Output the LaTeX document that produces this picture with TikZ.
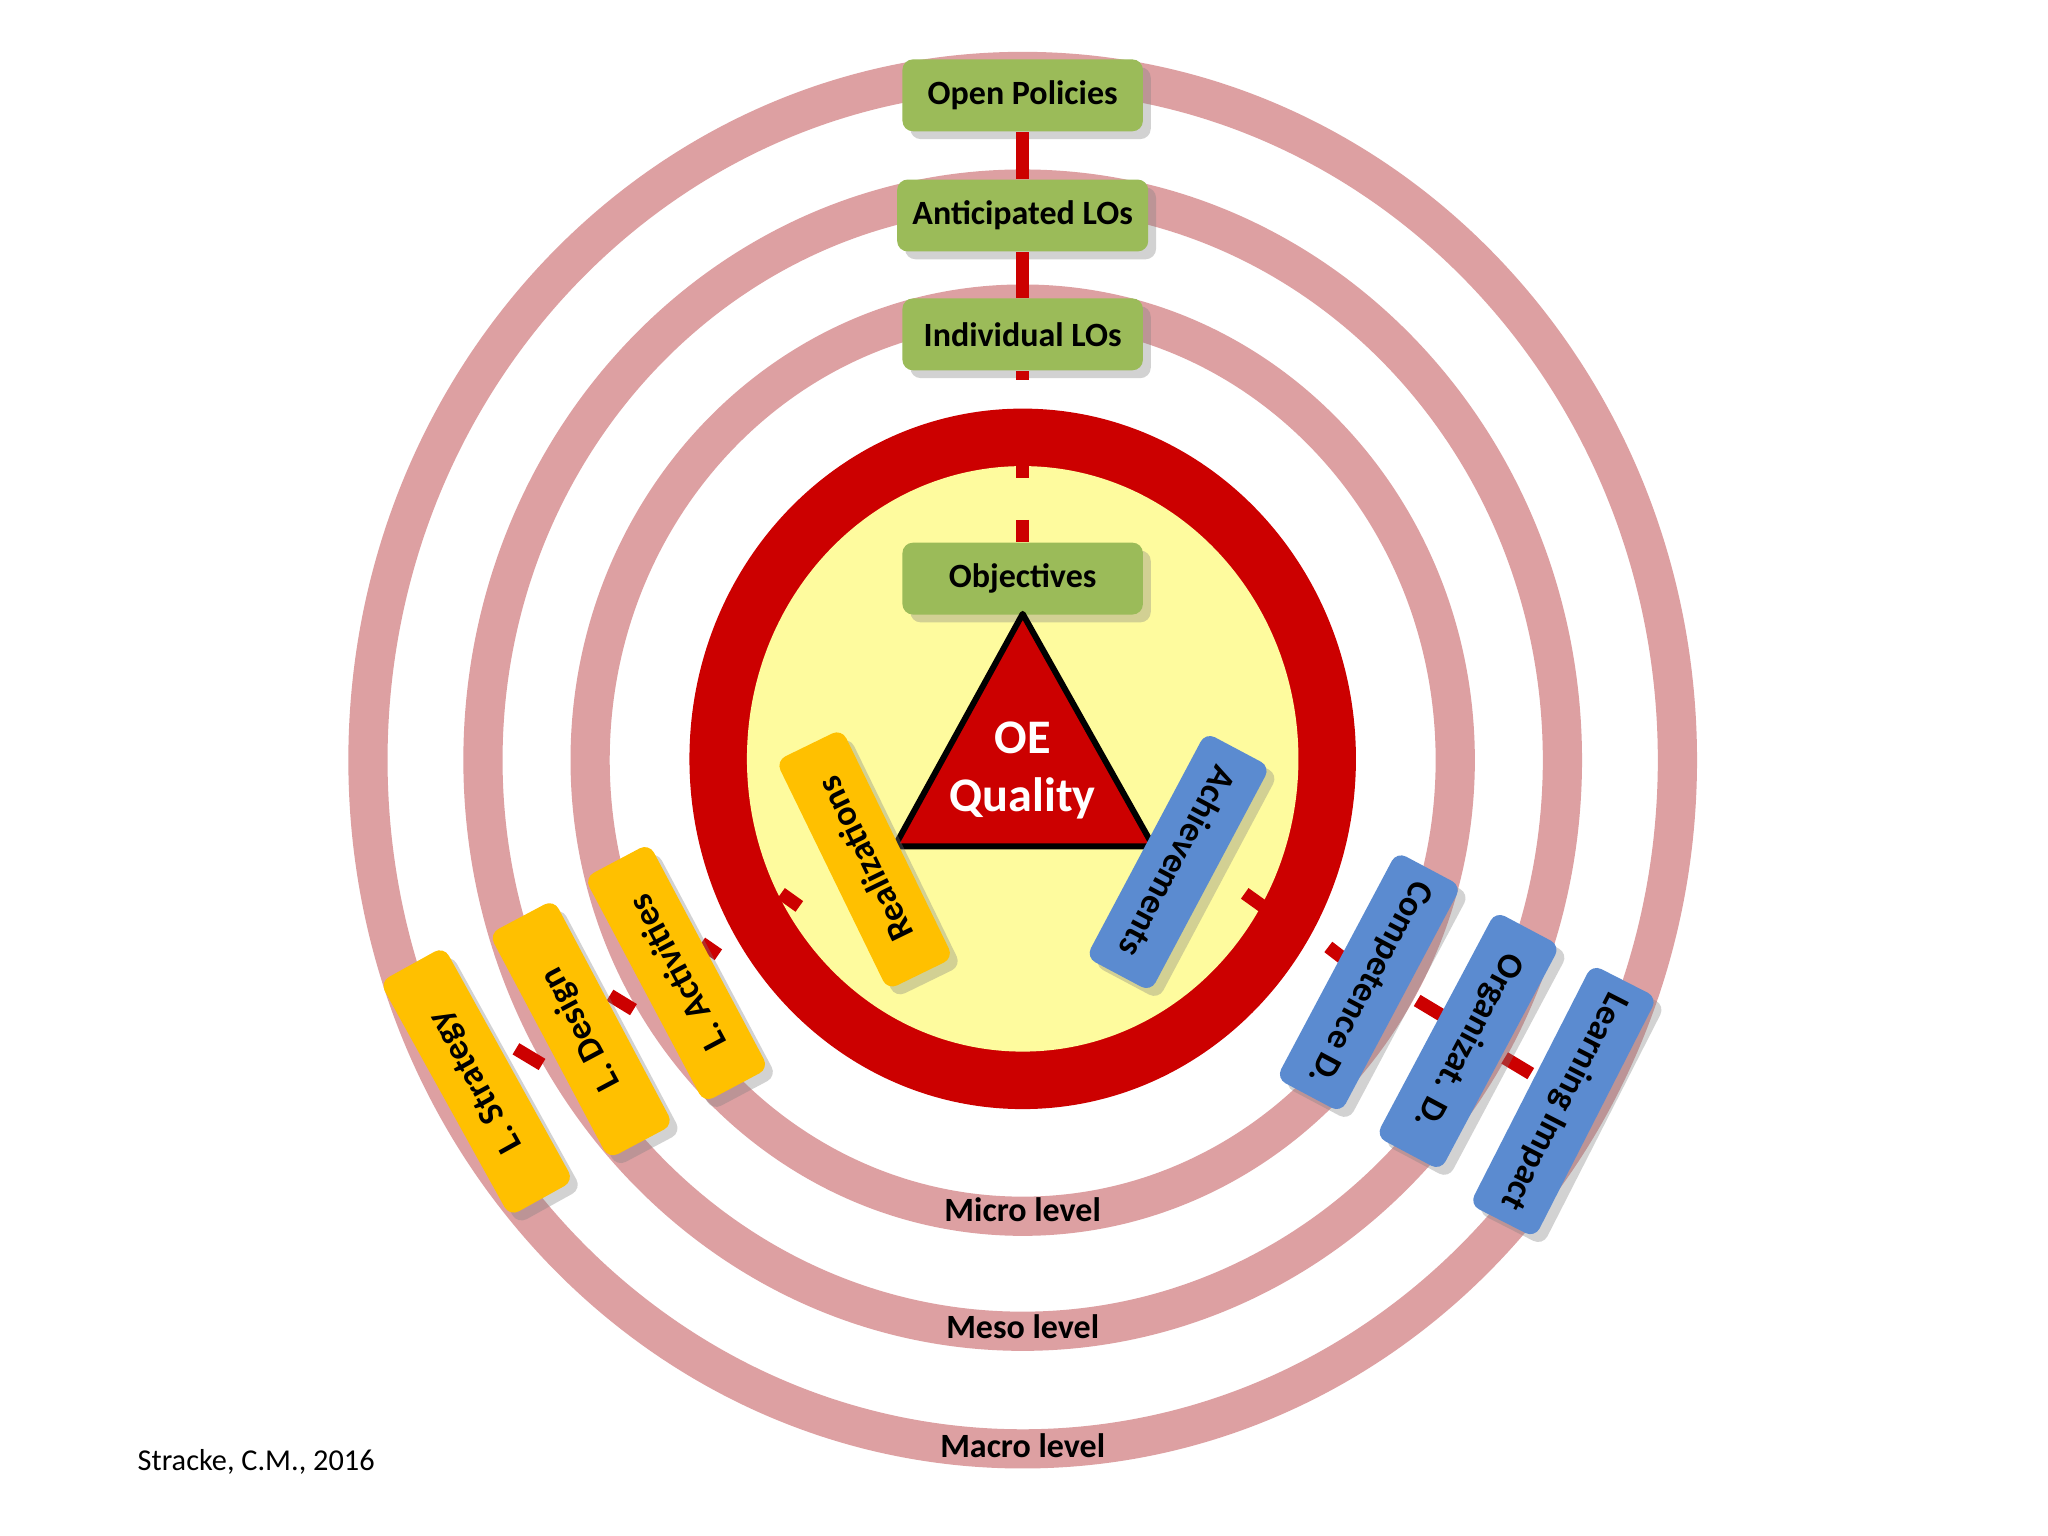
\documentclass[tikz,border=0pt]{standalone}
\usepackage{fontspec}
\setmainfont{Carlito}
\usetikzlibrary{shadows}
\definecolor{ringpink}{HTML}{DDA0A2}
\definecolor{rred}{HTML}{CC0000}
\definecolor{lyel}{HTML}{FEFB9E}
\definecolor{gbox}{HTML}{9BBB59}
\definecolor{bbox}{HTML}{5B8BD0}
\definecolor{ybox}{HTML}{FFC000}
\tikzset{
 gnode/.style={fill=gbox,rounded corners=0.08cm,minimum width=1.84cm,minimum height=0.55cm,font=\fontsize{7.4}{8}\selectfont\bfseries,drop shadow={opacity=0.35,shadow xshift=0.06cm,shadow yshift=-0.06cm}},
 rnode/.style={rounded corners=0.08cm,minimum width=1.95cm,minimum height=0.56cm,font=\fontsize{7.8}{8}\selectfont\bfseries,drop shadow={opacity=0.35,shadow xshift=0.06cm,shadow yshift=-0.06cm}},
 ynode/.style={rnode,fill=ybox},
 bnode/.style={rnode,fill=bbox},
 link/.style={draw=rred,line width=0.1cm},
 ring/.style={draw=ringpink,line width=0.3cm},
 lvl/.style={font=\fontsize{7.4}{8}\selectfont\bfseries}
}
\begin{document}
\begin{tikzpicture}[x=0.01cm,y=-0.01cm]
\useasboundingbox (0,0) rectangle (1568,1176);
\fill[white] (0,0) rectangle (1568,1176);
% rings
\draw[ring] (783,582) ellipse [x radius=5.01cm,y radius=5.27cm];
\draw[ring] (783,582) ellipse [x radius=4.13cm,y radius=4.37cm];
\draw[ring] (783,582) ellipse [x radius=3.31cm,y radius=3.49cm];
\fill[rred] (783,581) ellipse [x radius=2.55cm,y radius=2.68cm];
\fill[lyel] (783,581) ellipse [x radius=2.11cm,y radius=2.24cm];
% nodes
\node[gnode] (op) at (783,73) {Open Policies};
\node[gnode] (al) at (783,165) {Anticipated LOs};
\node[gnode] (il) at (783,256) {Individual LOs};
\node[gnode] (ob) at (783,443) {Objectives};
\coordinate (t1) at (783,355); \coordinate (t2) at (783,366);
\coordinate (t3) at (783,398); \coordinate (t4) at (783,415);
\draw[link] (op.south) -- (al.north);
\draw[link] (al.south) -- (il.north);
\draw[link] (il.south) -- ++(0,7);
\draw[link] (t1) -- (t2);
\draw[link] (t3) -- (t4);
% triangle
\coordinate (ta) at (783,470); \coordinate (tb) at (685,648); \coordinate (tc) at (883,648);
\filldraw[fill=rred,draw=black,line width=1.3pt,line join=round] (ta) -- (tb) -- (tc) -- cycle;
\node[text=white,font=\fontsize{10.5}{12.5}\selectfont\bfseries,align=center] (oe) at (783,590) {OE\\Quality};
% connectors behind boxes
\coordinate (cr1) at (598,684); \coordinate (cr2) at (612,694);
\coordinate (ca1) at (953,684); \coordinate (ca2) at (967,694);
\coordinate (cc1) at (1017,725); \coordinate (cc2) at (1030,735);
\coordinate (cx1) at (537,722); \coordinate (cx2) at (550,731);
\draw[link] (cr1) -- (cr2);
\draw[link] (ca1) -- (ca2);
\draw[link] (cc1) -- (cc2);
\draw[link] (cx1) -- (cx2);
\draw[link] (395,803) -- (415,815);
\draw[link] (467,762) -- (485,773);
\draw[link] (1085,766) -- (1105,778);
\draw[link] (1152,810) -- (1172,822);
% rotated boxes
\node[ynode,rotate=116] (re) at (662,658) {Realizations};
\node[bnode,rotate=-118] (ac) at (902,660) {Achievements};
\node[ynode,rotate=118] (la) at (518,745) {L. Activities};
\node[ynode,rotate=118] (ld) at (445,788) {L. Design};
\node[ynode,rotate=119,minimum width=2.05cm] (ls) at (365,828) {L. Strategy};
\node[bnode,rotate=-118] (cd) at (1048,752) {Competence D.};
\node[bnode,rotate=-118] (od) at (1124,797) {Organizat. D.};
\node[bnode,rotate=-117,minimum width=2.05cm] (li) at (1197,843) {Learning Impact};
% levels
\node[lvl] (mi) at (783,926) {Micro level};
\node[lvl] (me) at (783,1016) {Meso level};
\node[lvl] (ma) at (783,1107) {Macro level};
\node[anchor=west,font=\fontsize{6.6}{8}\selectfont] (src) at (93,1119) {Stracke, C.M., 2016};
\end{tikzpicture}
\end{document}
